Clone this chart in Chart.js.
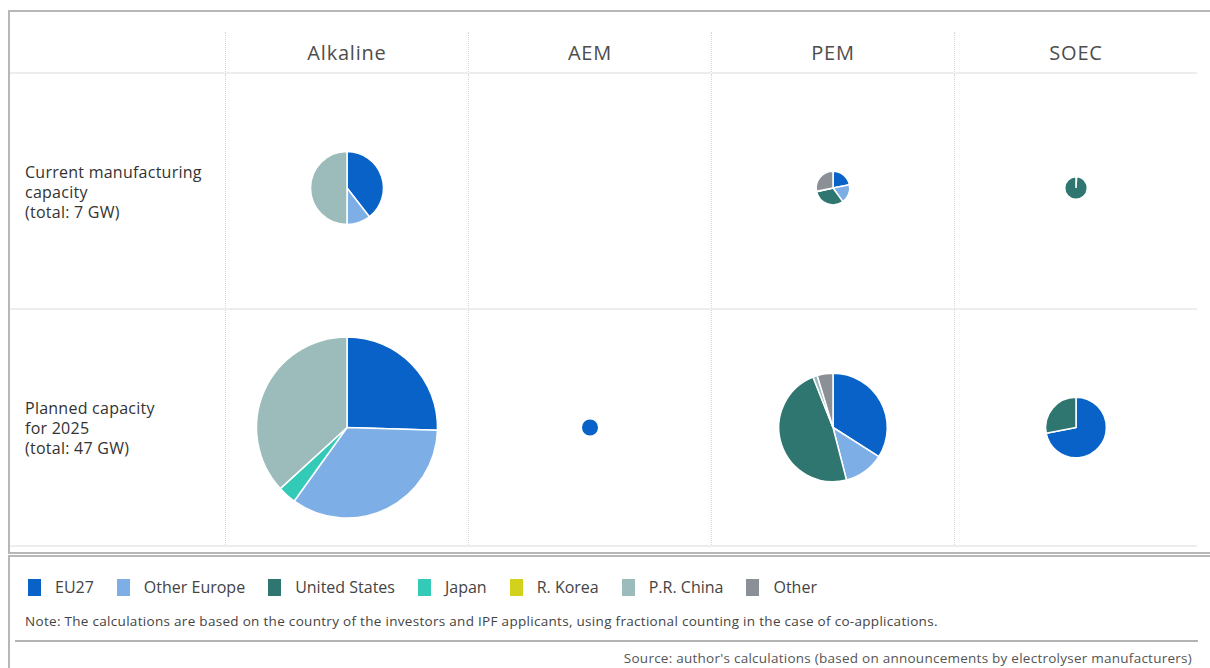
<!DOCTYPE html>
<html>
<head>
<meta charset="utf-8">
<script src="https://cdn.jsdelivr.net/npm/chart.js@4.4.1/dist/chart.umd.min.js"></script>
<style>
    html, body { margin: 0; padding: 0; background: #fff; }
    body { width: 1210px; height: 668px; position: relative; overflow: hidden; font-family: "Open Sans", sans-serif; color: #333; }

    .box-top { position: absolute; left: 8px; top: 10px; width: 1202px; height: 540px; border-top: 2px solid #b7b7b7; border-left: 2px solid #b7b7b7; border-bottom: 2px solid #b7b7b7; }
    .box-bottom { position: absolute; left: 8px; top: 555px; width: 1202px; height: 120px; border-top: 2px solid #b7b7b7; border-left: 2px solid #b7b7b7; }

    #grid { position: absolute; left: 10px; top: 32px; display: grid; grid-template-columns: 215px repeat(4, 243px); grid-template-rows: 42px 236px 237px; }
    #grid > div { position: relative; border-bottom: 2px solid #ededed; box-sizing: border-box; }
    #grid > div.cell { border-left: 1px dotted #d6d6d6; }
    .head { display: flex; align-items: center; justify-content: center; padding-top: 1px; font-size: 20px; color: #4d4d4d; letter-spacing: 0.8px; }
    .rowlabel { display: flex; align-items: center; padding-left: 15px; padding-top: 1px; font-size: 16px; letter-spacing: 0.25px; line-height: 20px; color: #333; }
    .cell canvas { position: absolute; left: 0; top: 0; }

    #legend { position: absolute; left: 28px; top: 576px; display: flex; align-items: center; font-size: 16px; color: #444; }
    #legend .item { display: flex; align-items: center; margin-right: 23px; }
    #legend .sw { width: 13px; height: 17px; margin-right: 14px; }

    #note { position: absolute; left: 25px; top: 612px; font-size: 13.5px; letter-spacing: 0.3px; color: #444; }
    #rule { position: absolute; left: 15px; top: 640px; width: 1183px; border-top: 2px solid #b3b3b3; }
    #source { position: absolute; right: 18px; top: 649px; font-size: 13.5px; letter-spacing: 0.25px; color: #555; }
</style>
</head>
<body>
<div class="box-top"></div>
<div class="box-bottom"></div>
<div id="grid"></div>
<div id="legend"></div>
<div id="note">Note: The calculations are based on the country of the investors and IPF applicants, using fractional counting in the case of co-applications.</div>
<div id="rule"></div>
<div id="source">Source: author's calculations (based on announcements by electrolyser manufacturers)</div>

<script>
// Технологии электролизёров (столбцы) и регионы (сегменты)
const technologies = ['Alkaline', 'AEM', 'PEM', 'SOEC'];
const regions = ['EU27', 'Other Europe', 'United States', 'Japan', 'R. Korea', 'P.R. China', 'Other'];
const regionColors = ['#0862c8', '#7daee6', '#2f7671', '#33cbb8', '#d2d21c', '#9cbcbb', '#8b8f96'];

const rowLabels = [
    ['Current manufacturing', 'capacity', '(total: 7 GW)'],
    ['Planned capacity', 'for 2025', '(total: 47 GW)']
];

// Мощность по технологиям, ГВт (определяет размер круга)
const currentTotals = [5.2, 0, 1.1, 0.5];
const plannedTotals = [32, 0.25, 11.5, 3.6];

// Доли регионов, %, порядок как в regions
const currentAlkaline = [39.5, 10.5, 0, 0, 0, 50, 0];
const currentAEM      = [0, 0, 0, 0, 0, 0, 0];
const currentPEM      = [22, 18, 31.5, 0, 0, 0.5, 28];
const currentSOEC     = [0, 1, 99, 0, 0, 0, 0];

const plannedAlkaline = [25.5, 34.4, 0, 3.3, 0, 36.8, 0];
const plannedAEM      = [100, 0, 0, 0, 0, 0, 0];
const plannedPEM      = [34, 12, 48, 0, 0, 1.3, 4.7];
const plannedSOEC     = [72, 0, 28, 0, 0, 0, 0];

const currentShares = [currentAlkaline, currentAEM, currentPEM, currentSOEC];
const plannedShares = [plannedAlkaline, plannedAEM, plannedPEM, plannedSOEC];

// площадь круга пропорциональна мощности
const PX_PER_SQRT_GW = 16;

let chartInstances = [];

function buildGrid() {
    const grid = document.getElementById('grid');

    // шапка
    grid.appendChild(document.createElement('div'));
    technologies.forEach(t => {
        const h = document.createElement('div');
        h.className = 'cell head';
        h.textContent = t;
        grid.appendChild(h);
    });

    const rows = [
        { totals: currentTotals, shares: currentShares, padding: { bottom: 6 } },
        { totals: plannedTotals, shares: plannedShares, padding: 0 }
    ];

    rows.forEach((row, r) => {
        const label = document.createElement('div');
        label.className = 'rowlabel';
        label.innerHTML = rowLabels[r].join('<br>');
        grid.appendChild(label);

        technologies.forEach((t, c) => {
            const cell = document.createElement('div');
            cell.className = 'cell';
            grid.appendChild(cell);
            if (row.totals[c] <= 0) return;

            const canvas = document.createElement('canvas');
            cell.appendChild(canvas);
            canvas.width = cell.clientWidth;
            canvas.height = cell.clientHeight;
            canvas.style.width = cell.clientWidth + 'px';
            canvas.style.height = cell.clientHeight + 'px';

            chartInstances.push(new Chart(canvas.getContext('2d'), {
                type: 'pie',
                data: {
                    labels: regions,
                    datasets: [{
                        data: row.shares[c],
                        backgroundColor: regionColors,
                        borderColor: '#ffffff',
                        // у круга из одного сегмента разделитель не нужен
                        borderWidth: ctx => ctx.dataset.data.filter(v => v > 0).length > 1 ? 1.5 : 0
                    }]
                },
                options: {
                    responsive: false,
                    animation: false,
                    radius: PX_PER_SQRT_GW * Math.sqrt(row.totals[c]),
                    layout: { padding: row.padding },
                    plugins: {
                        legend: { display: false },
                        tooltip: { enabled: false }
                    }
                }
            }));
        });
    });
}

function buildLegend() {
    const legend = document.getElementById('legend');
    regions.forEach((name, i) => {
        const item = document.createElement('div');
        item.className = 'item';
        item.innerHTML = `<span class="sw" style="background:${regionColors[i]}"></span><span>${name}</span>`;
        legend.appendChild(item);
    });
}

document.addEventListener('DOMContentLoaded', () => {
    buildGrid();
    buildLegend();
});
</script>
</body>
</html>
